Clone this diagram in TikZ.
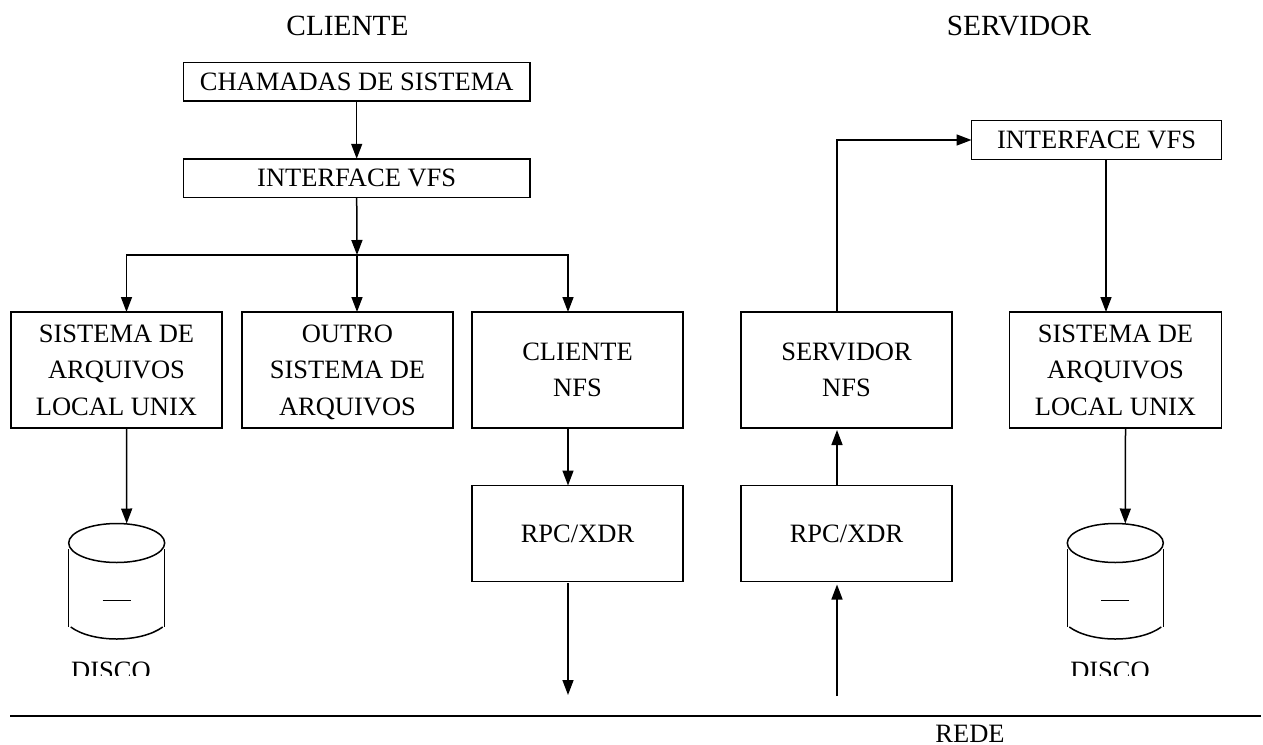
\documentclass[tikz,border=0pt]{standalone}
\usepackage{fontspec}
\setmainfont{Liberation Serif}
\usetikzlibrary{shapes.geometric,arrows.meta}
\tikzstyle{process} = [rectangle,
                       minimum width=211pt,
                       minimum height=116pt,
                       inner sep=0pt,
                       outer sep=0pt,
                       align=center,
                       draw=black,
                       line width=1.5pt]
\tikzstyle{wide} = [process,
                    minimum width=346.5pt,
                    minimum height=38.5pt]
\tikzstyle{rpc} = [process,
                   minimum height=96pt]
\tikzstyle{disktop} = [ellipse,
                       minimum width=96pt,
                       minimum height=39pt,
                       inner sep=0pt,
                       outer sep=0pt,
                       draw=black,
                       line width=1.5pt]
\tikzstyle{label} = [inner sep=0pt,
                     outer sep=0pt,
                     anchor=base]
\tikzstyle{heading} = [label,
                       font=\fontsize{29.3}{36}\selectfont]
\tikzstyle{arrow} = [line width=1.5pt,
                     -{Stealth[length=15pt,width=11pt,inset=0pt]}]
\newcommand{\diskbody}[1]{%
  \draw [line width=1.5pt] ([xshift=-48pt,yshift=-6pt]#1.center) -- ([xshift=-48pt,yshift=-84pt]#1.center);
  \draw [line width=1.5pt] ([xshift=48pt,yshift=-6pt]#1.center) -- ([xshift=48pt,yshift=-84pt]#1.center);
  \draw [line width=1.5pt] ([xshift=-46pt,yshift=-84pt]#1.center)
    .. controls ([xshift=-24pt,yshift=-100pt]#1.center) and ([xshift=24pt,yshift=-100pt]#1.center) .. ([xshift=46pt,yshift=-84pt]#1.center);
  \draw [line width=0.7pt] ([xshift=-14pt,yshift=-57pt]#1.center) -- ([xshift=14pt,yshift=-57pt]#1.center);
}

\begin{document}
\begin{tikzpicture}[x=1pt,y=-1pt,node distance=98pt,font=\fontsize{26.5}{36.5}\selectfont]
    \useasboundingbox (0,0) rectangle (1263,744);

    \node (cliente)  [heading]                              at (347.5,35)  {CLIENTE};
    \node (servidor) [heading]                              at (1019,35)   {SERVIDOR};
    \node (chamadas) [wide]                                 at (356.7,81.5) {CHAMADAS DE SISTEMA};
    \node (vfsc)     [wide, below of=chamadas, yshift=1.5pt]               {INTERFACE VFS};
    \node (localc)   [process]                              at (116.5,370) {SISTEMA DE\\ARQUIVOS\\LOCAL UNIX};
    \node (outro)    [process, right of=localc, xshift=133pt]              {OUTRO\\SISTEMA DE\\\smash{ARQUIVOS}};
    \node (nfsc)     [process, right of=outro, xshift=132pt]               {CLIENTE\\NFS};
    \node (rpcc)     [rpc, below of=nfsc, yshift=-65.5pt]                  {RPC/XDR};
    \node (nfss)     [process, right of=nfsc, xshift=171pt]                {SERVIDOR\\NFS};
    \node (rpcs)     [rpc, below of=nfss, yshift=-65.5pt]                  {RPC/XDR};
    \node (locals)   [process, right of=nfss, xshift=171pt, minimum width=212pt] {SISTEMA DE\\ARQUIVOS\\LOCAL UNIX};
    \node (vfss)     [wide, minimum width=250pt, minimum height=39pt]       at (1096.5,140) {INTERFACE VFS};
    \node (discoc)   [disktop]                              at (116.7,543) {};
    \node (discos)   [disktop]                              at (1115.3,543) {};
    \node (rede)     [label]                                at (970,742)   {REDE};

    \begin{scope}
      \clip (0,650) rectangle (1263,675);
      \node (rotuloc) [label] at (111,679)  {DISCO};
      \node (rotulos) [label] at (1110,679) {DISCO};
    \end{scope}

    \diskbody{discoc}
    \diskbody{discos}

    \coordinate (ramo)   at (357,255);
    \coordinate (saida)  at (568,695);
    \coordinate (chega)  at (837,696);
    \coordinate (redea)  at (10,716);
    \coordinate (redeb)  at (1261,716);

    \draw [arrow] (chamadas.south) -- (vfsc.north);
    \draw [arrow] (vfsc.south) -- (ramo);
    \draw [arrow] (ramo) -- (outro.north -| ramo);
    \draw [arrow] (ramo) -| ([xshift=10pt]localc.north);
    \draw [arrow] (ramo) -| ([xshift=-9.5pt]nfsc.north);

    \draw [arrow] ([xshift=10pt]localc.south) -- ([xshift=10pt]discoc.north);
    \draw [arrow] ([xshift=-9.5pt]nfsc.south) -- ([xshift=-9.5pt]rpcc.north);
    \draw [arrow] ([xshift=-9.5pt,yshift=-1.5pt]rpcc.south) -- (saida);

    \draw [arrow] (chega) -- ([xshift=-9.5pt,yshift=-3pt]rpcs.south);
    \draw [arrow] ([xshift=-9.5pt]rpcs.north) -- ([xshift=-9.5pt,yshift=-2pt]nfss.south);
    \draw [arrow] ([xshift=-9.5pt]nfss.north) |- (vfss.west);
    \draw [arrow] ([xshift=9.5pt]vfss.south) -- ([xshift=-9.5pt]locals.north);
    \draw [arrow] ([xshift=10pt]locals.south) -- ([xshift=10pt]discos.north);

    \draw [line width=1.8pt] (redea) -- (redeb);
\end{tikzpicture}
\end{document}
